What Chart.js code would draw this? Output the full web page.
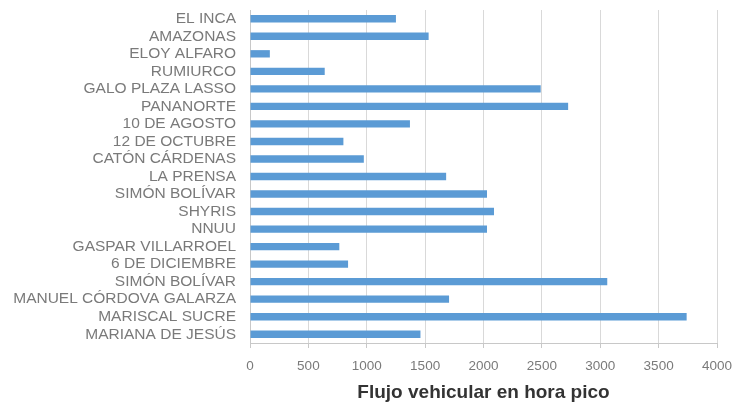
<!DOCTYPE html>
<html>
<head>
<meta charset="utf-8">
<script src="https://cdn.jsdelivr.net/npm/chart.js@4/dist/chart.umd.min.js"></script>
<style>
  html, body { margin: 0; padding: 0; background: #fff; }
  #wrap { width: 737px; height: 404px; }
</style>
</head>
<body>
<div id="wrap"><canvas id="myChart" width="737" height="404"></canvas></div>
<script>
// calles / avenidas (de arriba hacia abajo)
const calles = [
    "EL INCA", "AMAZONAS", "ELOY ALFARO", "RUMIURCO", "GALO PLAZA LASSO",
    "PANANORTE", "10 DE AGOSTO", "12 DE OCTUBRE", "CATÓN CÁRDENAS", "LA PRENSA",
    "SIMÓN BOLÍVAR", "SHYRIS", "NNUU", "GASPAR VILLARROEL", "6 DE DICIEMBRE",
    "SIMÓN BOLÍVAR", "MANUEL CÓRDOVA GALARZA", "MARISCAL SUCRE", "MARIANA DE JESÚS"
];

// flujo vehicular en hora pico
const flujo = [
    1250, 1530, 170, 640, 2490,
    2725, 1370, 800, 975, 1680,
    2030, 2090, 2030, 765, 840,
    3060, 1705, 3740, 1460
];

const ejeX = { min: 0, max: 4000, paso: 500 };
const tituloX = "Flujo vehicular en hora pico";

const gris = "#7a7a7a";
const fuente = "'Liberation Sans', Arial, sans-serif";

window.addEventListener("load", function () {
    const ctx = document.getElementById("myChart").getContext("2d");

    new Chart(ctx, {
        type: "bar",
        data: {
            labels: calles,
            datasets: [{
                data: flujo,
                backgroundColor: "#5B9BD5",
                borderWidth: 0,
                barPercentage: 0.42,
                categoryPercentage: 1.0
            }]
        },
        options: {
            indexAxis: "y",
            responsive: false,
            animation: false,
            layout: { padding: { top: 10, right: 20, bottom: 0, left: 0 } },
            plugins: {
                legend: { display: false },
                tooltip: { enabled: false }
            },
            scales: {
                y: {
                    grid: { display: false, drawTicks: false },
                    border: { display: true, color: "#c8c8c8", width: 1 },
                    ticks: {
                        color: gris,
                        padding: 14,
                        autoSkip: false,
                        font: { family: fuente, size: 15.5 }
                    },
                    afterFit: function (s) {
                        s.width = 250;
                        s.paddingTop = 0;
                        s.paddingBottom = 0;
                    }
                },
                x: {
                    min: ejeX.min,
                    max: ejeX.max,
                    grid: {
                        color: "#d9d9d9",
                        lineWidth: 1,
                        drawTicks: true,
                        tickLength: 5,
                        tickColor: "#c8c8c8"
                    },
                    border: { display: true, color: "#c8c8c8", width: 1 },
                    ticks: {
                        stepSize: ejeX.paso,
                        color: gris,
                        padding: 10,
                        maxRotation: 0,
                        callback: function (v) { return String(v); },
                        font: { family: fuente, size: 13.5 }
                    },
                    title: {
                        display: true,
                        text: tituloX,
                        color: "#333333",
                        padding: { top: 4, bottom: 0 },
                        font: { family: fuente, size: 19, weight: "bold" }
                    },
                    afterFit: function (s) {
                        s.height = 61;
                        s.paddingRight = 0;
                    }
                }
            }
        }
    });
});
</script>
</body>
</html>
